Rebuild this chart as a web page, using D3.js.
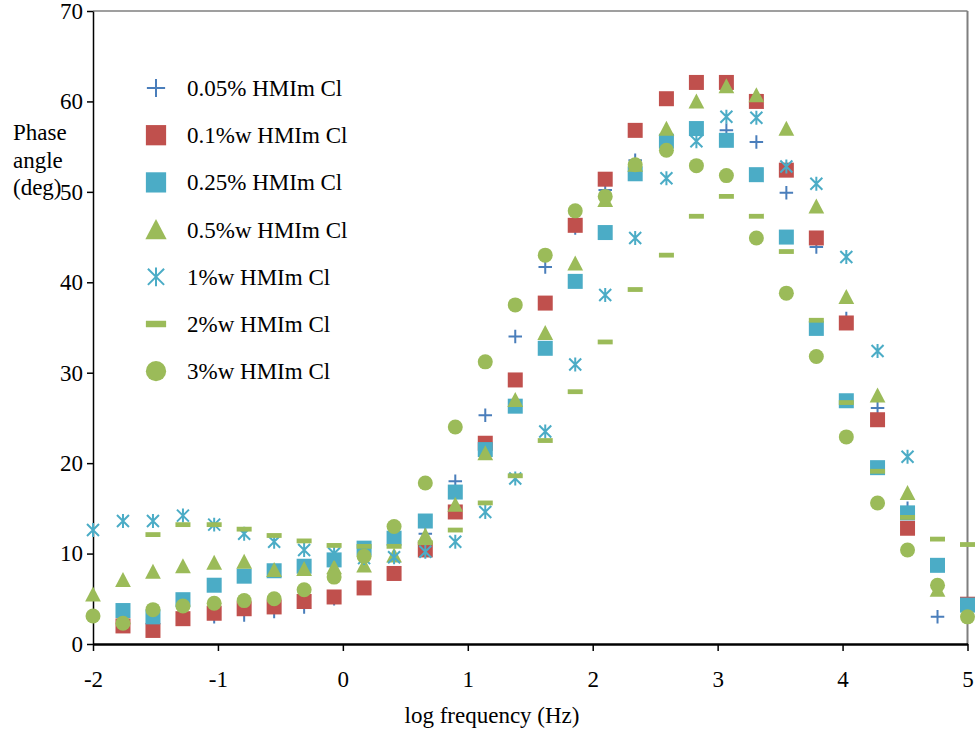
<html>
<head>
<meta charset="UTF-8">
<title>Phase angle</title>
<script src="https://cdn.jsdelivr.net/npm/d3@7/dist/d3.min.js"></script>
<style>
body { margin: 0; background: #fff; }
</style>
</head>
<body>
<div id="chart"></div>
<script>
// log frequency (Hz)
var logFreq = [-2, -1.76, -1.52, -1.28, -1.03, -0.79, -0.55, -0.31, -0.07, 0.17,
               0.41, 0.66, 0.9, 1.14, 1.38, 1.62, 1.86, 2.1, 2.34, 2.59,
               2.83, 3.07, 3.31, 3.55, 3.79, 4.03, 4.28, 4.52, 4.76, 5.0];

// phase angle (deg), null = not visible in the figure
var p005 = [null, null, null, null, 3.0, 3.2, 3.6, 4.1, 5.0, null, null, 12.2, 18.0, 25.3, 34.0, 41.7, 46.0, 50.2, 53.5, null,
            null, 56.8, 55.5, 49.9, 43.9, 36.0, 26.1, 15.0, 3.0, null];
var p01  = [null, 2.0, 1.5, 2.8, 3.4, 3.9, 4.1, 4.7, 5.2, 6.2, 7.8, 10.4, 14.6, 22.2, 29.2, 37.7, 46.3, 51.4, 56.8, 60.3,
            62.1, 62.1, 60.0, 52.4, 44.9, 35.5, 24.8, 12.8, null, 4.4];
var p025 = [null, 3.7, 3.0, 4.9, 6.5, 7.5, 8.1, 8.6, 9.3, 10.6, 11.7, 13.6, 16.8, 21.5, 26.3, 32.7, 40.1, 45.5, 52.0, 55.6,
            57.0, 55.7, 51.9, 45.0, 34.9, 26.9, 19.5, 14.5, 8.7, 4.3];
var p05  = [5.5, 7.1, 8.0, 8.6, 9.0, 9.1, 8.2, 8.3, 8.5, 8.7, 9.8, 12.0, 15.4, 21.1, 27.0, 34.4, 42.1, 49.1, 53.0, 57.0,
            60.0, 61.7, 60.7, 57.0, 48.4, 38.4, 27.5, 16.7, 6.0, null];
var p1   = [12.6, 13.6, 13.6, 14.2, 13.2, 12.2, 11.3, 10.4, 10.0, 9.5, 9.6, 10.2, 11.3, 14.6, 18.3, 23.5, 30.9, 38.6, 44.9, 51.5,
            55.6, 58.3, 58.2, 52.8, 50.9, 42.8, 32.4, 20.7, null, null];
var p2   = [null, null, 12.1, 13.2, 13.2, 12.7, 12.0, 11.4, 10.9, 10.8, 10.8, 11.2, 12.6, 15.6, 18.6, 22.5, 27.9, 33.4, 39.2, 43.0,
            47.3, 49.5, 47.3, 43.4, 35.8, 26.7, 19.1, 14.0, 11.6, 11.0];
var p3   = [3.1, 2.3, 3.8, 4.2, 4.5, 4.8, 5.0, 6.0, 7.4, 9.7, 13.0, 17.8, 24.0, 31.2, 37.5, 43.0, 47.9, 49.5, 53.0, 54.6,
            52.9, 51.8, 44.9, 38.8, 31.8, 22.9, 15.6, 10.4, 6.5, 3.0];

var names = ["0.05% HMIm Cl", "0.1%w HMIm Cl", "0.25% HMIm Cl", "0.5%w HMIm Cl", "1%w HMIm Cl", "2%w HMIm Cl", "3%w HMIm Cl"];
var series = [p005, p01, p025, p05, p1, p2, p3];
var markers = ["plus", "square", "square", "triangle", "star", "dash", "circle"];
var colors = ["#4a7ebb", "#c0504d", "#4bacc6", "#9bbb59", "#4bacc6", "#9bbb59", "#9bbb59"];
var xTicks = [-2, -1, 0, 1, 2, 3, 4, 5];
var yTicks = [0, 10, 20, 30, 40, 50, 60, 70];

var serif = "'Liberation Serif', 'Times New Roman', serif";

window.onload = function() {
	var width = 979, height = 734;
	var svg = d3.select("#chart").append("svg")
		.attr("width", width).attr("height", height);

	var x = d3.scaleLinear().domain([-2, 5]).range([93, 967.5]);
	var y = d3.scaleLinear().domain([0, 70]).range([644, 11]);

	// frame (top, right)
	svg.append("line").attr("x1", 93).attr("x2", 967.5).attr("y1", 11).attr("y2", 11)
		.attr("stroke", "#7f7f7f").attr("stroke-width", 1.5);
	svg.append("line").attr("x1", 967.5).attr("x2", 967.5).attr("y1", 11).attr("y2", 644)
		.attr("stroke", "#7f7f7f").attr("stroke-width", 2);

	// tick label: plain hyphen for negatives
	var fmt = function(d) { return d < 0 ? "-" + Math.abs(d) : String(d); };

	// axes
	var yAxis = d3.axisLeft(y).tickValues(yTicks).tickFormat(fmt).tickSize(6).tickPadding(4).tickSizeOuter(0);
	var gy = svg.append("g").attr("transform", "translate(93,0)").call(yAxis);
	gy.select(".domain").attr("stroke", "#000").attr("stroke-width", 1.5);
	gy.selectAll(".tick line").attr("stroke", "#000").attr("stroke-width", 1.5);
	gy.selectAll("text").style("font-family", serif).style("font-size", "23px").attr("fill", "#000");

	var xAxis = d3.axisBottom(x).tickValues(xTicks).tickFormat(fmt).tickSize(7).tickPadding(20).tickSizeOuter(0);
	var gx = svg.append("g").attr("transform", "translate(0,644)").call(xAxis);
	gx.select(".domain").attr("stroke", "#000").attr("stroke-width", 2.5);
	gx.selectAll(".tick line").attr("stroke", "#000").attr("stroke-width", 1.5);
	gx.selectAll("text").style("font-family", serif).style("font-size", "23px").attr("fill", "#000");

	// axis titles
	svg.append("text").attr("x", 492).attr("y", 723).attr("text-anchor", "middle")
		.style("font-family", serif).style("font-size", "23px")
		.text("log frequency (Hz)");
	var yt = svg.append("text")
		.style("font-family", serif).style("font-size", "23px");
	["Phase", "angle", "(deg)"].forEach(function(t, i) {
		yt.append("tspan").attr("x", 13).attr("y", 140 + i * 27.5).text(t);
	});

	// marker shapes, s = scale
	function shape(type, s) {
		var a = 7.5 * s;
		if (type == "square") return "M" + (-a) + "," + (-a) + "h" + 2 * a + "v" + 2 * a + "h" + (-2 * a) + "Z";
		if (type == "triangle") return "M0," + (-a * 1.05) + "L" + (a * 1.05) + "," + (a * 0.95) + "L" + (-a * 1.05) + "," + (a * 0.95) + "Z";
		if (type == "circle") return d3.symbol(d3.symbolCircle, Math.PI * a * a)();
		if (type == "dash") return "M" + (-a) + "," + (-2.4 * s) + "h" + 2 * a + "v" + 4.8 * s + "h" + (-2 * a) + "Z";
		if (type == "plus") { var b = a * 0.9; return "M" + (-b) + ",0H" + b + "M0," + (-b) + "V" + b; }
		if (type == "star") { var c = a * 0.93, d = a * 0.8; return "M0," + (-c) + "V" + c + "M" + (-d) + "," + (-d) + "L" + d + "," + d + "M" + (-d) + "," + d + "L" + d + "," + (-d); }
	}
	function styleMark(sel, i, s) {
		var m = markers[i];
		if (m == "plus" || m == "star") {
			sel.attr("fill", "none").attr("stroke", colors[i]).attr("stroke-width", 2 * s);
		} else {
			sel.attr("fill", colors[i]).attr("stroke", "none");
		}
	}

	// points
	series.forEach(function(vals, i) {
		var pts = vals.map(function(v, j) { return [logFreq[j], v]; })
			.filter(function(d) { return d[1] != null; });
		var g = svg.append("g").attr("class", "series" + i);
		g.selectAll("path").data(pts).enter().append("path")
			.attr("d", shape(markers[i], 1))
			.attr("transform", function(d) { return "translate(" + x(d[0]) + "," + y(d[1]) + ")"; })
			.call(styleMark, i, 1);
	});

	// legend
	names.forEach(function(n, i) {
		var lg = svg.append("g").attr("transform", "translate(156," + (88 + i * 47.2) + ")");
		lg.append("path").attr("d", shape(markers[i], 1.35)).call(styleMark, i, 1);
		lg.append("text").attr("x", 31).attr("y", 8)
			.style("font-family", serif).style("font-size", "23px")
			.text(n);
	});
};
</script>
</body>
</html>
